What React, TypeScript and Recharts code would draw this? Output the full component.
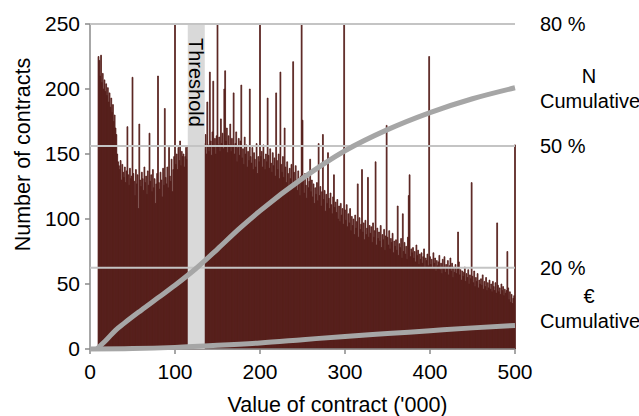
import React from 'react';
import {
  ComposedChart,
  Bar,
  Line,
  XAxis,
  YAxis,
  ReferenceArea,
  ReferenceLine,
} from 'recharts';

// contracts per 1,000 bin, first bin at 10, last (500) is the open bin
const firstBin = 10;
const counts: number[] = [
  225, 222, 210, 226, 205, 212, 200, 207, 198, 204,
  195, 201, 190, 197, 186, 193, 182, 188, 175, 180,
  170, 165, 150, 144, 141, 138, 145, 130, 142, 136,
  132, 140, 128, 137, 171, 134, 126, 139, 131, 133,
  209, 135, 129, 118, 138, 127, 134, 108, 173, 130,
  125, 136, 131, 122, 140, 128, 133, 119, 137, 126,
  166, 129, 134, 121, 138, 124, 131, 112, 127, 135,
  210, 128, 123, 136, 130, 117, 139, 126, 185, 132,
  127, 140, 124, 155, 133, 129, 146, 121, 138, 148,
  250, 142, 150, 138, 155, 145, 160, 141, 152, 148,
  150, 140, 148, 155, 146, 156, 151, 160, 147, 158,
  163, 150, 158, 166, 154, 161, 157, 168, 152, 160,
  156, 147, 162, 151, 158, 154, 165, 150, 190, 157,
  152, 213, 160, 149, 167, 206, 155, 162, 150, 164,
  250, 157, 163, 152, 177, 158, 166, 154, 200, 214,
  160, 170, 151, 164, 157, 173, 152, 162, 155, 197,
  150, 158, 167, 144, 155, 162, 149, 160, 203, 147,
  154, 142, 163, 150, 157, 140, 152, 145, 200, 148,
  143, 155, 138, 151, 146, 140, 158, 135, 148, 144,
  250, 148, 152, 140, 157, 146, 138, 150, 144, 193,
  149, 139, 154, 143, 136, 151, 141, 147, 133, 197,
  145, 138, 150, 131, 213, 142, 136, 148, 132, 170,
  140, 128, 144, 135, 125, 139, 131, 142, 127, 221,
  136, 124, 141, 130, 122, 137, 128, 118, 133, 250,
  176, 131, 120, 135, 126, 116, 132, 124, 129, 146,
  121, 130, 117, 127, 112, 124, 119, 128, 114, 158,
  118, 125, 110, 121, 165, 115, 122, 106, 119, 112,
  151, 116, 108, 120, 111, 104, 117, 134, 109, 113,
  105, 115, 100, 110, 98, 112, 103, 108, 96, 250,
  107, 99, 111, 94, 104, 97, 108, 91, 102, 95,
  100, 88, 103, 93, 98, 127, 86, 101, 92, 96,
  138, 90, 97, 84, 99, 88, 93, 132, 86, 95,
  89, 94, 82, 97, 86, 91, 144, 80, 93, 85,
  90, 83, 95, 78, 88, 84, 92, 76, 87, 172,
  86, 80, 91, 77, 85, 82, 89, 74, 83, 79,
  84, 76, 110, 72, 81, 78, 85, 70, 104, 75,
  82, 73, 79, 69, 86, 118, 134, 71, 77, 74,
  78, 70, 75, 67, 80, 72, 76, 65, 73, 69,
  74, 66, 71, 77, 63, 70, 68, 73, 64, 225,
  71, 65, 69, 62, 74, 66, 70, 60, 68, 64,
  67, 72, 61, 66, 58, 69, 63, 71, 59, 65,
  62, 68, 57, 64, 70, 60, 66, 55, 63, 59,
  65, 58, 62, 90, 67, 57, 61, 53, 60, 56,
  59, 63, 52, 58, 55, 61, 50, 57, 54, 128,
  56, 51, 60, 48, 55, 52, 58, 47, 53, 50,
  54, 49, 57, 46, 52, 48, 55, 45, 51, 47,
  53, 46, 50, 44, 52, 48, 45, 51, 43, 97,
  49, 44, 47, 42, 50, 45, 48, 41, 46, 43,
  45, 75, 47, 38, 44, 36, 42, 35, 39, 41,
  157,
];

// cumulative share of contracts (N) and of value (€), in %
const nCumX = [8, 20, 30, 40, 60, 80, 100, 124, 150, 175, 200, 250, 300, 350, 400, 450, 500];
const nCumPct = [0, 2.4, 4.6, 6.3, 9.5, 12.6, 15.7, 19.7, 24.6, 29.5, 34, 42, 48.8, 54, 58.2, 61.6, 64.3];
const eurCumX = [0, 50, 100, 150, 200, 250, 300, 350, 400, 450, 500];
const eurCumPct = [0, 0.1, 0.4, 0.9, 1.5, 2.3, 3.1, 3.8, 4.5, 5.2, 5.8];

const xTicks = [0, 100, 200, 300, 400, 500];
const leftTicks = [0, 50, 100, 150, 200, 250];
const pctTicks = [20, 50, 80];
const threshold = [115, 135];

const bars = counts.map((n, i) => ({ v: firstBin + i, n }));
const nCum = nCumX.map((v, i) => ({ v, p: nCumPct[i] }));
const eurCum = eurCumX.map((v, i) => ({ v, p: eurCumPct[i] }));

const FONT = '"Liberation Sans", Arial, sans-serif';
const AXIS = '#8a8a8a';
const CURVE = '#a6a6a6';
const BAR = '#561e1b';
const W = 639;
const H = 416;
const RIGHT_W = 124;

const ThresholdLabel = (props: any) => {
  const vb = props.viewBox || {};
  const cx = vb.x + vb.width / 2;
  const y = vb.y + 14;
  return (
    <text
      x={cx}
      y={y}
      transform={`rotate(90, ${cx}, ${y})`}
      fontSize={20}
      fill="#000"
      dominantBaseline="central"
      textAnchor="start"
    >
      Threshold
    </text>
  );
};

const sideLabel: React.CSSProperties = {
  position: 'absolute',
  left: 540,
  width: 98,
  textAlign: 'center',
  fontSize: 20,
  lineHeight: '25px',
  color: '#000',
};

export default function App() {
  return (
    <div style={{ position: 'absolute', left: 0, top: 0, width: W, height: H, fontFamily: FONT, background: '#fff' }}>
      {/* histogram + left/bottom axes */}
      <ComposedChart
        width={W}
        height={H}
        data={bars}
        margin={{ top: 24, right: RIGHT_W, bottom: 0, left: 0 }}
        barCategoryGap={0}
        barGap={0}
      >
        <XAxis
          dataKey="v"
          type="number"
          domain={[0, 500]}
          ticks={xTicks}
          height={67}
          stroke={AXIS}
          strokeWidth={1.5}
          tickSize={5}
          tickMargin={10}
          tick={{ fill: '#000', fontSize: 21 }}
          label={{ value: "Value of contract ('000)", position: 'insideBottom', offset: 4, dx: 35, fill: '#000', fontSize: 21.5 }}
        />
        <YAxis
          yAxisId="left"
          domain={[0, 250]}
          ticks={leftTicks}
          width={90}
          stroke={AXIS}
          strokeWidth={1.5}
          tickSize={5}
          tickMargin={5}
          tick={{ fill: '#000', fontSize: 21 }}
          label={{
            value: 'Number of contracts',
            angle: -90,
            position: 'insideLeft',
            offset: 22,
            dy: -32,
            fill: '#000',
            fontSize: 21.5,
            style: { textAnchor: 'middle' },
          }}
        />
        <Bar yAxisId="left" dataKey="n" fill={BAR} stroke={BAR} strokeWidth={0.8} isAnimationActive={false} />
      </ComposedChart>

      {/* threshold band, gridlines, cumulative curves and % axis drawn over the bars */}
      <div style={{ position: 'absolute', left: 0, top: 0, pointerEvents: 'none' }}>
        <ComposedChart width={W} height={H} data={nCum} margin={{ top: 24, right: 0, bottom: 0, left: 90 }}>
          <XAxis dataKey="v" type="number" domain={[0, 500]} height={67} axisLine={false} tickLine={false} tick={false} />
          <YAxis
            yAxisId="right"
            orientation="right"
            domain={[0, 80]}
            ticks={pctTicks}
            width={RIGHT_W}
            axisLine={false}
            tickLine={false}
            tickSize={0}
            tickMargin={25}
            tick={{ fill: '#000', fontSize: 20 }}
            tickFormatter={(v: number) => `${v} %`}
          />
          <ReferenceArea
            yAxisId="right"
            x1={threshold[0]}
            x2={threshold[1]}
            fill="#d9d9d9"
            fillOpacity={1}
            stroke="none"
            label={<ThresholdLabel />}
          />
          {pctTicks.map((p) => (
            <ReferenceLine key={p} yAxisId="right" y={p} stroke="#c4c4c4" strokeWidth={2} />
          ))}
          <Line
            yAxisId="right"
            data={nCum}
            dataKey="p"
            type="monotone"
            stroke={CURVE}
            strokeWidth={5}
            dot={false}
            isAnimationActive={false}
          />
          <Line
            yAxisId="right"
            data={eurCum}
            dataKey="p"
            type="monotone"
            stroke={CURVE}
            strokeWidth={5}
            dot={false}
            isAnimationActive={false}
          />
        </ComposedChart>
      </div>

      <div style={{ ...sideLabel, top: 64 }}>
        N
        <br />
        Cumulative
      </div>
      <div style={{ ...sideLabel, top: 284 }}>
        €
        <br />
        Cumulative
      </div>
    </div>
  );
}
